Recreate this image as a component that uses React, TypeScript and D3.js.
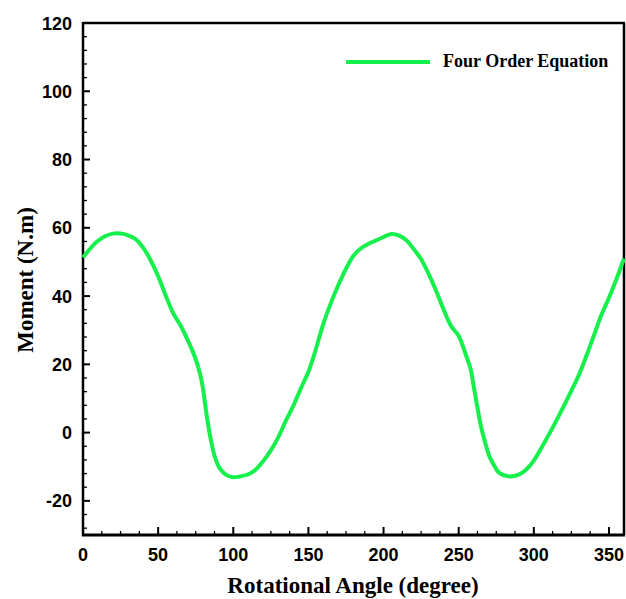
import * as d3 from 'd3';
import React, { useRef, useEffect } from 'react';

// Data
const angles = [0, 5, 10, 15, 20, 25, 30, 35, 40, 45, 50, 55, 60, 65, 70, 75, 78, 80, 82, 85, 88, 91, 95, 100,
    105, 110, 115, 120, 125, 130, 135, 140, 145, 150, 155, 160, 165, 170, 175, 180, 185, 190, 195, 200, 205,
    210, 215, 220, 225, 230, 235, 240, 245, 250, 255, 258, 260, 262, 265, 268, 270, 273, 277, 283, 290, 295,
    300, 305, 310, 315, 320, 325, 330, 335, 340, 345, 350, 355, 360];
const moments = [51.3, 54.0, 56.2, 57.6, 58.3, 58.3, 57.8, 56.7, 54.2, 50.5, 45.8, 40.2, 35.0, 31.3, 26.8, 21.5, 17.0, 12.4, 6.0, -2.0, -7.5, -10.5, -12.3, -13.1,
    -12.8, -12.2, -10.8, -8.3, -5.2, -1.3, 3.5, 7.9, 13.0, 17.8, 24.5, 32.0, 38.0, 43.3, 48.0, 51.8, 54.0, 55.3, 56.3, 57.3, 58.2,
    57.8, 56.4, 53.8, 50.8, 46.5, 41.5, 36.0, 31.2, 28.3, 22.5, 18.5, 13.5, 8.5, 1.5, -3.5, -6.5, -9.2, -11.8, -12.8, -12.3, -10.8,
    -8.2, -4.5, -0.6, 3.5, 7.8, 12.3, 16.9, 22.5, 28.5, 34.5, 39.5, 45.0, 51.0];

const xTicks = [0, 50, 100, 150, 200, 250, 300, 350];
const yTicks = [-20, 0, 20, 40, 60, 80, 100, 120];
const seriesName = "Four Order Equation";
const xTitle = "Rotational Angle (degree)";
const yTitle = "Moment (N.m)";

const width = 626;
const height = 599;
const left = 83;
const right = 624;
const top = 23;
const bottom = 535;
const green = "#16f04c";

export default function App() {
    const svgRef = useRef(null);

    useEffect(() => {
        const svg = d3.select(svgRef.current);
        svg.selectAll("*").remove();

        const x = d3.scaleLinear().domain([0, 360]).range([left, right]);
        const y = d3.scaleLinear().domain([-30, 120]).range([bottom, top]);

        // minor ticks
        const xMinor = d3.range(0, 361, 12.5).filter(v => v % 50 !== 0);
        const yMinor = d3.range(-28, 121, 4).filter(v => v % 20 !== 0);

        const ticks = svg.append("g").attr("stroke", "black").attr("stroke-width", 1.3);
        ticks.selectAll(".xmaj").data(xTicks).enter().append("line")
            .attr("x1", d => x(d)).attr("x2", d => x(d))
            .attr("y1", bottom).attr("y2", bottom - 8).attr("stroke-width", 2);
        ticks.selectAll(".xmin").data(xMinor).enter().append("line")
            .attr("x1", d => x(d)).attr("x2", d => x(d))
            .attr("y1", bottom).attr("y2", bottom - 4);
        ticks.selectAll(".ymaj").data(yTicks).enter().append("line")
            .attr("x1", left).attr("x2", left + 7)
            .attr("y1", d => y(d)).attr("y2", d => y(d)).attr("stroke-width", 2);
        ticks.selectAll(".ymin").data(yMinor).enter().append("line")
            .attr("x1", left).attr("x2", left + 4)
            .attr("y1", d => y(d)).attr("y2", d => y(d));

        // frame
        svg.append("line").attr("x1", left).attr("x2", right + 1).attr("y1", top).attr("y2", top)
            .attr("stroke", "black").attr("stroke-width", 2.5);
        svg.append("line").attr("x1", right).attr("x2", right).attr("y1", top).attr("y2", bottom)
            .attr("stroke", "black").attr("stroke-width", 2.5);
        svg.append("line").attr("x1", left).attr("x2", left).attr("y1", top - 1).attr("y2", bottom + 1)
            .attr("stroke", "black").attr("stroke-width", 2.5);
        svg.append("line").attr("x1", left - 1).attr("x2", right + 1).attr("y1", bottom).attr("y2", bottom)
            .attr("stroke", "black").attr("stroke-width", 3);

        // tick labels
        svg.selectAll(".xlab").data(xTicks).enter().append("text")
            .attr("x", d => x(d)).attr("y", bottom + 26)
            .attr("text-anchor", "middle")
            .style("font-family", "'Liberation Sans', Arial, sans-serif")
            .style("font-weight", "bold").style("font-size", "18px")
            .text(d => d);
        svg.selectAll(".ylab").data(yTicks).enter().append("text")
            .attr("x", left - 11).attr("y", d => y(d) + 6.5)
            .attr("text-anchor", "end")
            .style("font-family", "'Liberation Sans', Arial, sans-serif")
            .style("font-weight", "bold").style("font-size", "18px")
            .text(d => d);

        // curve
        const points = angles.map((a, i) => [a, moments[i]]);
        const line = d3.line().x(d => x(d[0])).y(d => y(d[1])).curve(d3.curveCatmullRom.alpha(0.5));
        svg.append("path").datum(points)
            .attr("d", line)
            .attr("fill", "none")
            .attr("stroke", green)
            .attr("stroke-width", 4)
            .attr("stroke-linejoin", "round");

        // legend
        svg.append("line").attr("x1", 346).attr("x2", 430).attr("y1", 62).attr("y2", 62)
            .attr("stroke", green).attr("stroke-width", 4);
        svg.append("text").attr("x", 443).attr("y", 67)
            .style("font-family", "'Liberation Serif', 'Times New Roman', serif")
            .style("font-weight", "bold").style("font-size", "18px")
            .text(seriesName);

        // axis titles
        svg.append("text").attr("x", 353).attr("y", 593)
            .attr("text-anchor", "middle")
            .style("font-family", "'Liberation Serif', 'Times New Roman', serif")
            .style("font-weight", "bold").style("font-size", "23px")
            .text(xTitle);
        svg.append("text")
            .attr("transform", "translate(33," + 280 + ") rotate(-90)")
            .attr("text-anchor", "middle")
            .style("font-family", "'Liberation Serif', 'Times New Roman', serif")
            .style("font-weight", "bold").style("font-size", "23px")
            .text(yTitle);
    }, []);

    return (
        <div style={{ position: "absolute", left: 0, top: 0, background: "white" }}>
            <svg ref={svgRef} width={width} height={height}></svg>
        </div>
    );
}
